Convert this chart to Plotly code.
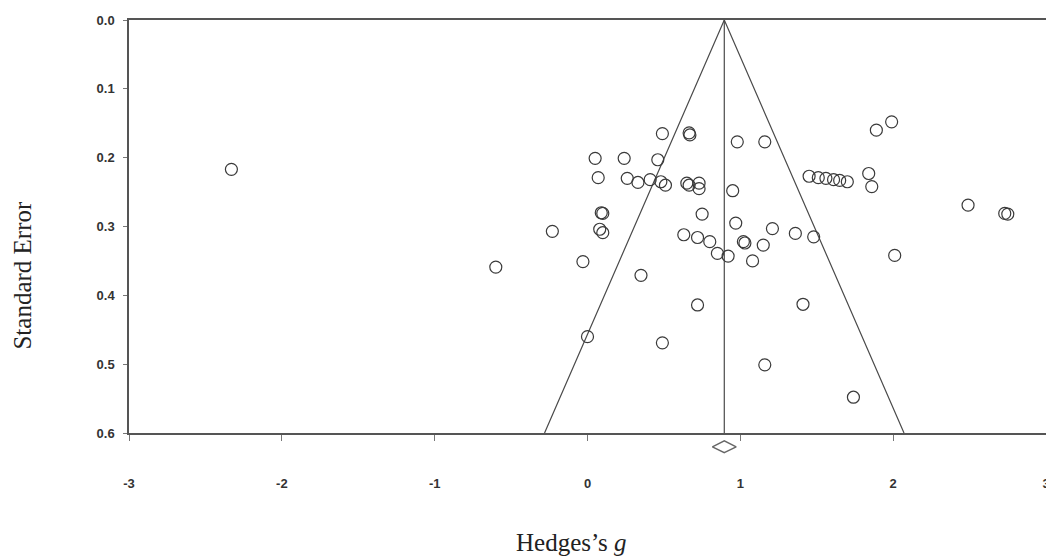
import plotly.graph_objects as go

# Study effect sizes (Hedges's g) and standard errors
hedges_g = [-2.33, -0.60, -0.23, -0.03, 0.00, 0.05, 0.07, 0.09, 0.10, 0.08,
            0.10, 0.24, 0.26, 0.33, 0.35, 0.41, 0.46, 0.48, 0.51, 0.49,
            0.49, 0.67, 0.665, 0.65, 0.665, 0.73, 0.73, 0.75, 0.63, 0.72,
            0.80, 0.85, 0.92, 0.72, 0.95, 0.97, 0.98, 1.02, 1.03, 1.08,
            1.15, 1.16, 1.16, 1.21, 1.36, 1.48, 1.41, 1.45, 1.51, 1.56,
            1.61, 1.65, 1.70, 1.74, 1.84, 1.86, 1.89, 1.99, 2.01, 2.49,
            2.73, 2.75]
std_error = [0.217, 0.359, 0.307, 0.351, 0.460, 0.201, 0.229, 0.280, 0.281, 0.304,
             0.309, 0.201, 0.230, 0.236, 0.371, 0.232, 0.203, 0.235, 0.240, 0.165,
             0.469, 0.167, 0.164, 0.237, 0.240, 0.237, 0.245, 0.282, 0.312, 0.316,
             0.322, 0.339, 0.343, 0.414, 0.248, 0.295, 0.177, 0.322, 0.324, 0.350,
             0.327, 0.177, 0.501, 0.303, 0.310, 0.315, 0.413, 0.227, 0.229, 0.230,
             0.232, 0.233, 0.235, 0.548, 0.223, 0.242, 0.160, 0.148, 0.342, 0.269,
             0.281, 0.282]

pooled_g = 0.895          # overall effect (funnel centre)
se_max = 0.6              # bottom of the funnel / axis
diamond_se = 0.62         # summary diamond drawn just under the axis

x_ticks = [-3, -2, -1, 0, 1, 2, 3]
y_ticks = [0.0, 0.1, 0.2, 0.3, 0.4, 0.5, 0.6]

line_col = "#4a4a4a"

# main axis occupies the top part of the plotting band; a hidden second
# axis in the same units extends a little lower so the diamond can sit
# below the frame.
main_bottom = 27 / 440
y2_max = se_max / (1 - main_bottom)

fig = go.Figure()

fig.add_trace(go.Scatter(
    x=[pooled_g - 1.96 * se_max, pooled_g, pooled_g + 1.96 * se_max],
    y=[se_max, 0, se_max],
    mode="lines", line=dict(color=line_col, width=1.2),
    hoverinfo="skip", showlegend=False))
fig.add_trace(go.Scatter(
    x=[pooled_g, pooled_g], y=[0, se_max],
    mode="lines", line=dict(color=line_col, width=1.2),
    hoverinfo="skip", showlegend=False))

fig.add_trace(go.Scatter(
    x=hedges_g, y=std_error, mode="markers",
    marker=dict(symbol="circle-open", size=12, color="#3a3a3a",
                line=dict(width=1.2, color="#3a3a3a")),
    showlegend=False))

fig.add_trace(go.Scatter(
    x=[pooled_g], y=[diamond_se], mode="markers", yaxis="y2",
    marker=dict(symbol="diamond-wide-open", size=17, color="#666666",
                line=dict(width=1.4, color="#666666")),
    showlegend=False))

tickfont = dict(family="Liberation Sans, Arial", size=13, color="#333333", weight="bold")
title_font = dict(family="Liberation Serif, Times New Roman", size=25, color="#222222")

fig.update_layout(
    width=1046, height=549,
    margin=dict(l=121, r=4, t=12, b=97),
    paper_bgcolor="white", plot_bgcolor="rgba(0,0,0,0)",
    xaxis=dict(range=[-3, 3], tickvals=x_ticks, ticktext=[str(v) for v in x_ticks],
               anchor="y",
               showgrid=False, zeroline=False, showline=True, mirror=True,
               linecolor="#555555", linewidth=1.5,
               ticks="outside", ticklen=6, tickcolor="#777777",
               tickfont=tickfont, ticklabelstandoff=32),
    yaxis=dict(domain=[main_bottom, 1], range=[se_max, 0], tickvals=y_ticks,
               ticktext=[f"{v:.1f}" for v in y_ticks],
               showgrid=False, zeroline=False, showline=True, mirror=True,
               linecolor="#555555", linewidth=1.5,
               ticks="outside", ticklen=4, tickcolor="#777777",
               tickfont=tickfont, ticklabelstandoff=6),
    yaxis2=dict(domain=[0, 1], range=[y2_max, 0], visible=False,
                anchor="x", showgrid=False, zeroline=False),
    annotations=[
        dict(text="Standard Error", xref="paper", yref="paper",
             x=-0.1163, y=0.42, textangle=-90, showarrow=False,
             xanchor="center", yanchor="middle", font=title_font),
        dict(text="Hedges\u2019s <i>g</i>", xref="paper", yref="paper",
             x=0.4815, y=-0.1886, showarrow=False,
             xanchor="center", yanchor="middle", font=title_font),
    ],
)

fig.write_html("out.html")
